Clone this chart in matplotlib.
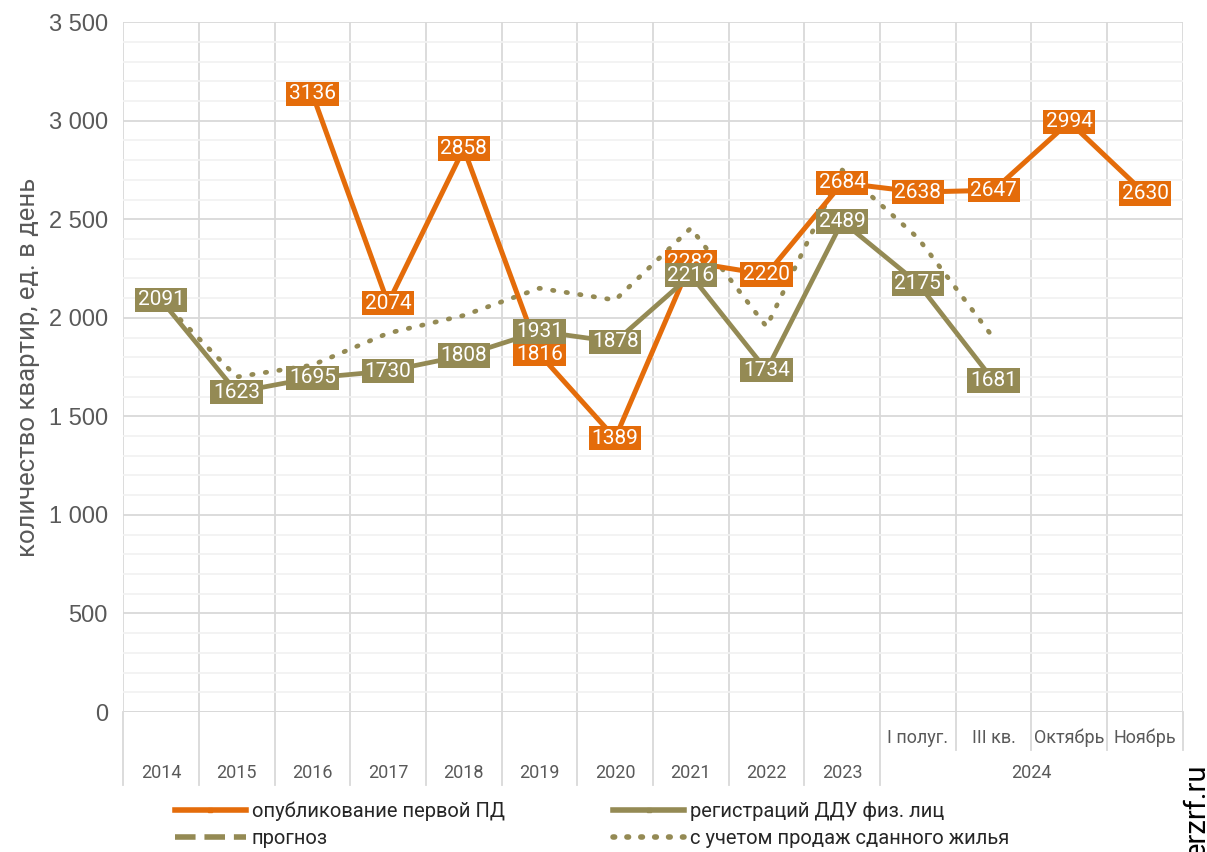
import numpy as np
import matplotlib
matplotlib.use("Agg")
import matplotlib.pyplot as plt
from matplotlib.lines import Line2D

plt.rcParams['font.family'] = ['Roboto', 'DejaVu Sans']

# категории оси X
years = ["2014", "2015", "2016", "2017", "2018", "2019", "2020", "2021", "2022", "2023"]
sub_2024 = ["I полуг.", "III кв.", "Октябрь", "Ноябрь"]
group_2024 = "2024"

# ряды (ед. в день)
first_pd = [None, None, 3136, 2074, 2858, 1816, 1389, 2282, 2220, 2684, 2638, 2647, 2994, 2630]
ddu = [2091, 1623, 1695, 1730, 1808, 1931, 1878, 2216, 1734, 2489, 2175, 1681, None, None]
prognoz = [None] * 14
with_sold = [2091, 1700, 1760, 1922, 2012, 2150, 2090, 2455, 1955, 2750, 2405, 1897, None, None]

ORANGE = "#E46C0A"
OLIVE = "#948A54"
GRAY = "#595959"

n = len(years) + len(sub_2024)
x = np.arange(n)

def arr(v):
    return np.array([np.nan if a is None else a for a in v], dtype=float)

fig = plt.figure(figsize=(12.07, 8.52), dpi=100)
ax = fig.add_axes([0.102, 0.1643, 0.878, 0.8097])

ax.set_xlim(-0.5, n - 0.5)
ax.set_ylim(0, 3500)
ax.set_yticks(range(0, 3501, 500))
ax.set_yticks(range(0, 3501, 100), minor=True)
ax.set_yticklabels([f"{v:,}".replace(",", " ") for v in range(0, 3501, 500)],
                   family="Liberation Sans", fontsize=17, color=GRAY)
ax.tick_params(axis="y", which="both", length=0, pad=11)
ax.set_xticks(np.arange(-0.5, n, 1.0))
ax.set_xticklabels([])
ax.tick_params(axis="x", length=0)
ax.grid(axis="y", which="major", color="#D9D9D9", lw=1.3)
ax.grid(axis="y", which="minor", color="#F2F2F2", lw=1.3)
ax.grid(axis="x", which="major", color="#D9D9D9", lw=1.3)
for s in ax.spines.values():
    s.set_visible(False)
ax.axhline(0, color="#D9D9D9", lw=1.3)
ax.set_axisbelow(True)

ax.set_ylabel("количество квартир, ед. в день", fontsize=18.5, color=GRAY, labelpad=6)

# линии
ax.plot(x, arr(first_pd), color=ORANGE, lw=3.6, marker="s", ms=4, zorder=3)
ax.plot(x, arr(ddu), color=OLIVE, lw=3.4, marker="s", ms=4, zorder=3)
ax.plot(x, arr(prognoz), color=OLIVE, lw=3.4, ls="--", zorder=3)
ax.plot(x, arr(with_sold), color=OLIVE, lw=3.4, ls=(0, (0.3, 2.6)),
        dash_capstyle="round", zorder=2.5)

# подписи значений
for series, col in ((first_pd, ORANGE), (ddu, OLIVE)):
    for xi, v in zip(x, series):
        if v is None:
            continue
        ax.text(xi, v, str(v), ha="center", va="center", color="white", fontsize=15,
                zorder=5, bbox=dict(boxstyle="square,pad=0.13", fc=col, ec="none"))

# подписи оси X (два уровня)
tr = ax.get_xaxis_transform()
for i, lab in enumerate(years):
    ax.text(i, -0.088, lab, transform=tr, ha="center", va="center", fontsize=13, color=GRAY)
for j, lab in enumerate(sub_2024):
    ax.text(len(years) + j, -0.038, lab, transform=tr, ha="center", va="center",
            fontsize=13, color=GRAY)
ax.text(len(years) + (len(sub_2024) - 1) / 2, -0.088, group_2024, transform=tr,
        ha="center", va="center", fontsize=13, color=GRAY)
for b in range(len(years) + 1):
    ax.plot([b - 0.5, b - 0.5], [0, -0.106], transform=tr, color="#D9D9D9", lw=1.3, clip_on=False)
for b in range(len(years) + 1, n + 1):
    ax.plot([b - 0.5, b - 0.5], [0, -0.055], transform=tr, color="#D9D9D9", lw=1.3, clip_on=False)

# легенда
handles = [
    Line2D([], [], color=ORANGE, lw=4, marker="s", ms=3),
    Line2D([], [], color=OLIVE, lw=4, ls="--"),
    Line2D([], [], color=OLIVE, lw=4, marker="s", ms=3),
    Line2D([], [], color=OLIVE, lw=4, ls=(0, (0.3, 2.2)), dash_capstyle="round"),
]
labels = ["опубликование первой ПД", "прогноз", "регистраций ДДУ физ. лиц",
          "с учетом продаж сданного жилья"]
fig.legend(handles, labels, ncol=2, frameon=False, fontsize=14.5,
           loc="upper left", bbox_to_anchor=(0.145, 0.059),
           borderpad=0, borderaxespad=0,
           handlelength=3.5, handletextpad=0.3, columnspacing=5.4,
           labelspacing=0.4, labelcolor="#262626")

fig.text(0.991, -0.006, "erzrf.ru", rotation=90, ha="center", va="bottom",
         fontsize=21, color="black")

fig.savefig("out.png", dpi=100)
